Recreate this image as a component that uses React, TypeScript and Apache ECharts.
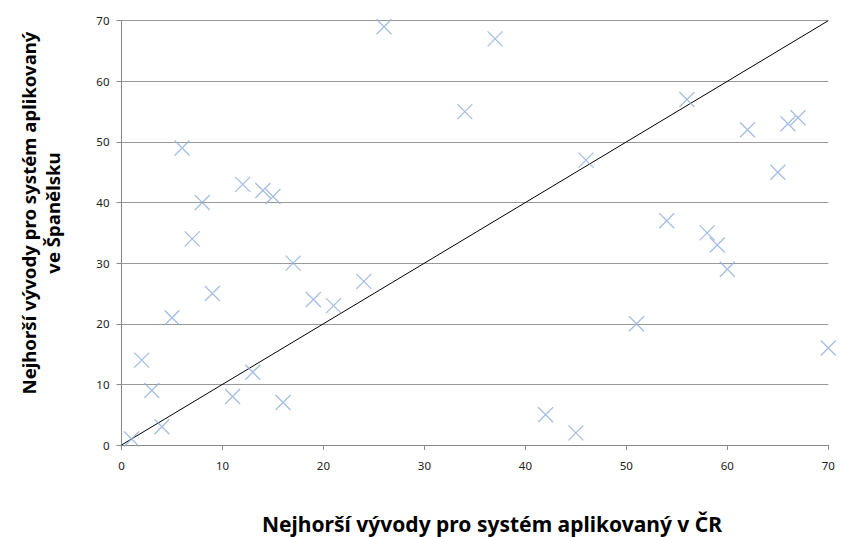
import React, { useEffect, useRef } from "react";
import * as echarts from "echarts";

const xValues = [1, 2, 3, 4, 5, 6, 7, 8, 9, 11, 12, 13, 14, 15, 16, 17, 19, 21, 24, 26, 34, 37, 42, 45, 46, 51, 54, 56, 58, 59, 60, 62, 65, 66, 67, 70];
const yValues = [1, 14, 9, 3, 21, 49, 34, 40, 25, 8, 43, 12, 42, 41, 7, 30, 24, 23, 27, 69, 55, 67, 5, 2, 47, 20, 37, 57, 35, 33, 29, 52, 45, 53, 54, 16];
const lineX = [0, 70];
const lineY = [0, 70];
const xTitle = "Nejhorší vývody pro systém aplikovaný v ČR";
const yTitleLines = ["Nejhorší vývody pro systém aplikovaný", "ve Španělsku"];

export default function App() {
  const ref = useRef<HTMLDivElement>(null);
  useEffect(() => {
    if (!ref.current) return;
    const chart = echarts.init(ref.current, null, { renderer: "svg" });
    const font = "'Noto Sans', sans-serif";
    chart.setOption({
      animation: false,
      backgroundColor: "#ffffff",
      grid: { left: 121.5, right: 12.7, top: 20.7, bottom: 92, containLabel: false },
      xAxis: {
        type: "value",
        min: 0,
        max: 70,
        interval: 10,
        axisLine: { show: true, lineStyle: { color: "#888888", width: 1 } },
        axisTick: { show: true, length: 5, lineStyle: { color: "#888888" } },
        axisLabel: { color: "#222222", fontSize: 11.5, fontFamily: font, margin: 14 },
        splitLine: { show: false },
      },
      yAxis: {
        type: "value",
        min: 0,
        max: 70,
        interval: 10,
        axisLine: { show: true, lineStyle: { color: "#888888", width: 1 } },
        axisTick: { show: true, length: 5, lineStyle: { color: "#888888" } },
        axisLabel: { color: "#222222", fontSize: 11.5, fontFamily: font, margin: 12 },
        splitLine: { show: true, lineStyle: { color: "#999999", width: 1 } },
      },
      series: [
        {
          type: "line",
          data: lineX.map((x, i) => [x, lineY[i]]),
          symbol: "none",
          lineStyle: { color: "#000000", width: 1 },
          silent: true,
          z: 1,
        },
        {
          type: "scatter",
          data: xValues.map((x, i) => [x, yValues[i]]),
          symbol: "path://M0,0L10,10M10,0L0,10",
          symbolSize: 15,
          itemStyle: { color: "transparent", borderColor: "#8eaedc", borderWidth: 1.3 },
          z: 3,
        },
      ],
      graphic: [
        {
          type: "text",
          x: 492,
          y: 524,
          style: {
            text: xTitle,
            fontSize: 21,
            fontWeight: "bold",
            fontFamily: font,
            fill: "#000000",
            align: "center",
            verticalAlign: "middle",
          },
        },
        {
          type: "text",
          x: 40,
          y: 213,
          rotation: Math.PI / 2,
          style: {
            text: yTitleLines.join("\n"),
            fontSize: 18.6,
            fontWeight: "bold",
            fontFamily: font,
            fill: "#000000",
            align: "center",
            verticalAlign: "middle",
            lineHeight: 24,
          },
        },
      ],
    });
    return () => chart.dispose();
  }, []);
  return <div ref={ref} style={{ width: 841, height: 537, position: "absolute", left: 0, top: 0 }} />;
}
